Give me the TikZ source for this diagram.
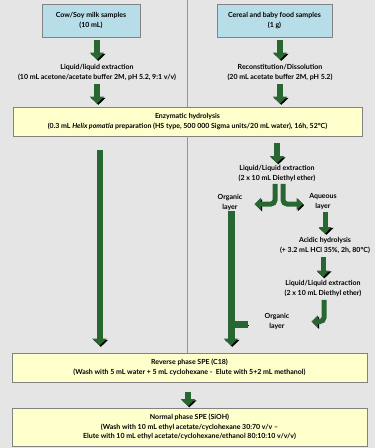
\documentclass[tikz,border=0pt]{standalone}
\usepackage{fontspec}
\setmainfont{Lato}
\usetikzlibrary{arrows.meta,calc}
\definecolor{bgc}{RGB}{229,229,229}
\definecolor{boxblue}{RGB}{183,222,232}
\definecolor{boxyellow}{RGB}{255,255,204}
\definecolor{boxline}{RGB}{130,130,130}
\definecolor{agreen}{RGB}{40,102,50}
\definecolor{sepc}{RGB}{150,150,150}
\tikzset{
  box/.style={draw=boxline, line width=0.8pt, align=center, inner sep=0pt},
  bluebox/.style={box, fill=boxblue},
  yelbox/.style={box, fill=boxyellow},
  lbl/.style={align=center, inner sep=1pt},
  sepline/.style={draw=sepc, line width=1pt},
  tipbig/.style={-{Triangle[width=14pt,length=7pt]}},
  tipsmall/.style={-{Triangle[width=12pt,length=6.5pt]}},
  barrow/.style={line width=6pt, draw=agreen, tipbig,
    preaction={draw=black, tipbig, transform canvas={shift={(1.3pt,-1.3pt)}}}},
  sarrow/.style={line width=5pt, draw=agreen, tipsmall, rounded corners=4pt,
    preaction={draw=black, tipsmall, transform canvas={shift={(1.2pt,-1.2pt)}}}},
  stub/.style={line width=7pt, draw=agreen,
    preaction={draw=black, transform canvas={shift={(1.3pt,-1.3pt)}}}},
}
\begin{document}
\begin{tikzpicture}[x=1pt,y=-1pt, font=\fontsize{7}{10}\selectfont\bfseries]
\fill[bgc] (0,0) rectangle (375,448);
\useasboundingbox (0,0) rectangle (375,448);

% boxes and labels
\node[bluebox, minimum width=98pt, minimum height=33pt] (b1) at (91,20.5) {Cow/Soy milk samples\\(10 mL)};
\node[bluebox, minimum width=115pt, minimum height=33pt] (b2) at (274.5,20.5) {Cereal and baby food samples\\(1 g)};
\node[lbl] (t1) at (97,72) {Liquid/liquid extraction\\(10 mL acetone/acetate buffer 2M, pH 5.2, 9:1 v/v)};
\node[lbl] (t2) at (280,72) {Reconstitution/Dissolution\\(20 mL acetate buffer 2M, pH 5.2)};
\node[yelbox, minimum width=349pt, minimum height=29pt] (enz) at (187.5,121.5) {Enzymatic hydrolysis\\(0.3 mL \textit{Helix pomatia} preparation (HS type, 500 000 Sigma units/20 mL water), 16h, 52°C)};
\node[lbl] (t3) at (277,173.5) {Liquid/Liquid extraction\\(2 x 10 mL Diethyl ether)};
\node[lbl] (org1) at (230,202) {Organic\\layer};
\node[lbl] (aq) at (323,202) {Aqueous\\layer};
\node[lbl] (t4) at (325,245) {Acidic hydrolysis\\(+ 3.2 mL HCl 35\%, 2h, 80°C)};
\node[lbl] (t5) at (323,288.5) {Liquid/Liquid extraction\\(2 x 10 mL Diethyl ether)};
\node[lbl] (org2) at (277,321.5) {Organic\\layer};
\node[yelbox, minimum width=355pt, minimum height=29pt] (rev) at (189.5,367.5) {Reverse phase SPE (C18)\\(Wash with 5 mL water + 5 mL cyclohexane -\ \ Elute with 5+2 mL methanol)};
\node[yelbox, minimum width=355pt, minimum height=38pt, font=\fontsize{7}{9.2}\selectfont\bfseries] (norm) at (189.5,427) {Normal phase SPE (SiOH)\\(Wash with 10 mL ethyl acetate/cyclohexane 30:70 v/v --\\Elute with 10 mL ethyl acetate/cyclohexane/ethanol 80:10:10 v/v/v)};
\coordinate (join) at (248,324);
\coordinate (jn) at (org1.south |- join);

% separator
\draw[sepline] (enz.north |- 0,0) -- (enz.north);
\draw[sepline] (enz.south) -- (enz.south |- rev.north);

% straight arrows
\draw[barrow] ($(b1.south -| t1)+(0,3)$) -- ($(t1.north)+(0,-3)$);
\draw[barrow] ($(t1.south)+(0,3)$) -- ($(enz.north -| t1)+(0,-3)$);
\draw[barrow] ($(b2.south -| t2)+(0,3)$) -- ($(t2.north)+(0,-3)$);
\draw[barrow] ($(t2.south)+(0,3)$) -- ($(enz.north -| t2)+(0,-3)$);
\draw[barrow] ($(enz.south -| t3)+(0,7)$) -- ($(t3.north)+(0,-1)$);
\draw[barrow] ($(enz.south -| t1)+(2.5,14)$) -- ($(rev.north -| t1)+(2.5,-7)$);
\draw[barrow] ($(rev.south)+(-1.5,10)$) -- ($(norm.north)+(-1.5,-1.5)$);

% split after first extraction
\draw[sarrow] ($(t3.south)+(-2,1)$) |- ($(org1.east)+(11,2)$);
\draw[sarrow] ($(t3.south)+(6,1)$) |- ($(aq.west)+(-5,2)$);
\draw[barrow, line width=5pt, tipsmall] ($(aq.south)+(2,1)$) -- ($(t4.north)+(0,-2)$);
\draw[barrow, line width=5pt, tipsmall] ($(t4.south)+(-2,3)$) -- ($(t5.north)+(0,-2)$);
\draw[sarrow] ($(t5.south)+(1,2)$) |- ($(org2.east)+(21,0)$);

% organic layer route
\draw[stub] ($(jn)+(1,0)$) -- (join);
\draw[barrow, line width=7pt] ($(org1.south)+(1,0)$) -- ($(rev.north -| org1)+(1,-7)$);

\end{tikzpicture}
\end{document}
